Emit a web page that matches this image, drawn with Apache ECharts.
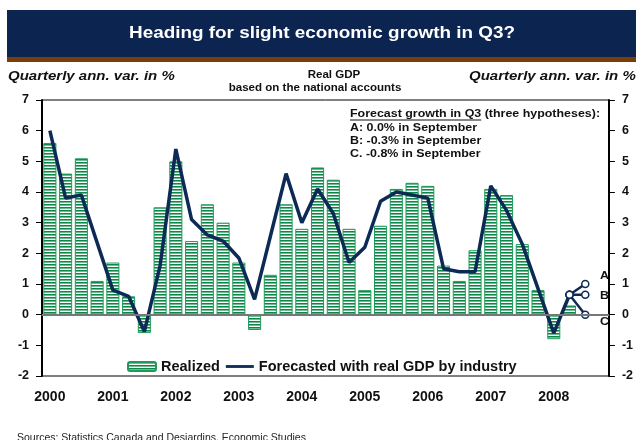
<!DOCTYPE html>
<html>
<head>
<meta charset="utf-8">
<script src="https://cdn.jsdelivr.net/npm/echarts@6/dist/echarts.min.js"></script>
<style>
  html, body { margin: 0; padding: 0; background: #fff; }
  #chart { width: 636px; height: 440px; }
</style>
</head>
<body>
<div id="chart"></div>
<script>
// data
var years = ['2000', '2001', '2002', '2003', '2004', '2005', '2006', '2007', '2008'];
var realized = [
    5.6, 4.6, 5.1, 1.1,
    1.7, 0.6, -0.6, 3.5,
    5.0, 2.4, 3.6, 3.0,
    1.7, -0.5, 1.3, 3.6,
    2.8, 4.8, 4.4, 2.8,
    0.8, 2.9, 4.1, 4.3,
    4.2, 1.6, 1.1, 2.1,
    4.1, 3.9, 2.3, 0.8,
    -0.8, 0.3
];
var forecasted = [
    6.0, 3.8, 3.9, 2.35,
    0.8, 0.6, -0.55, 1.6,
    5.4, 3.1, 2.6, 2.4,
    1.85, 0.5, 2.55, 4.6,
    3.0, 4.1, 3.3, 1.7,
    2.2, 3.7, 4.0, 3.9,
    3.8, 1.5, 1.4, 1.4,
    4.2, 3.4, 2.3, 0.85,
    -0.6, 0.65
];
// Q3 2008 hypotheses
var hypoNames = ['A', 'B', 'C'];
var hypoValues = [1.0, 0.65, 0.0];
var yTicks = { min: -2, max: 7, interval: 1 };

// quarters as categories
var quarters = [];
years.forEach(function (y) {
    for (var q = 1; q <= 4; q++) quarters.push(y + 'Q' + q);
});

// striped fill for the bars
var pat = document.createElement('canvas');
pat.width = 4; pat.height = 3;
var pc = pat.getContext('2d');
pc.fillStyle = '#ffffff'; pc.fillRect(0, 0, 4, 3);
pc.fillStyle = '#0c8649'; pc.fillRect(0, 0, 4, 1);
pc.fillStyle = '#6dbb8f'; pc.fillRect(0, 1, 4, 1);

var FONT = '"Liberation Sans", Arial, sans-serif';
var NAVY = '#0c2a55';
var SX = 1.13; // the reference text is a bit wide

// width of the underlined part of the note
pc.font = 'bold 11px ' + FONT;
var ulWidth = pc.measureText('Forecast growth in Q3').width * SX;

function txt(x, y, s, font, align, sx) {
    return { type: 'text', x: x, y: y, scaleX: sx || SX,
        style: { text: s, fill: '#111', font: font + ' ' + FONT, textAlign: align || 'left', textVerticalAlign: 'middle' } };
}

var fanSeries = hypoNames.map(function (n, k) {
    var d = quarters.map(function () { return null; });
    d[realized.length - 1] = forecasted[forecasted.length - 1];
    d[realized.length] = hypoValues[k];
    return {
        name: 'hyp' + n,
        type: 'line',
        data: d,
        symbol: 'circle',
        symbolSize: 7,
        itemStyle: { color: '#fff', borderColor: NAVY, borderWidth: 1.5 },
        lineStyle: { color: NAVY, width: 2.5 },
        z: 4,
        silent: true
    };
});

var myChart = echarts.init(document.getElementById('chart'));
var option = {
    animation: false,
    textStyle: { fontFamily: FONT },
    grid: { left: 42, right: 21, top: 100, bottom: 64, show: true, borderColor: '#000', borderWidth: 1 },
    legend: {
        data: [
            { name: 'Realized' },
            { name: 'Forecasted with real GDP by industry', icon: 'path://M0,0 H30 V3 H0 Z' }
        ],
        left: 122, top: 354,
        itemWidth: 28, itemHeight: 9, itemGap: 6,
        textStyle: { fontFamily: FONT, fontSize: 14.5, fontWeight: 'bold', color: '#111' }
    },
    xAxis: {
        type: 'category',
        data: quarters,
        axisLine: { lineStyle: { color: '#555', width: 2 } },
        axisTick: { show: false },
        axisLabel: {
            interval: 3, margin: 14,
            fontSize: 14, fontWeight: 'bold', color: '#111',
            formatter: function (v) { return v.slice(0, 4); }
        }
    },
    yAxis: [0, 1].map(function (i) {
        return {
            type: 'value',
            position: i ? 'right' : 'left',
            min: yTicks.min, max: yTicks.max, interval: yTicks.interval,
            splitLine: { show: false },
            axisLine: { show: true, lineStyle: { color: '#000', width: 2 } },
            axisTick: { show: true, length: 6, lineStyle: { color: '#000' } },
            axisLabel: { fontSize: 12.5, fontWeight: 'bold', color: '#111', margin: 13 }
        };
    }),
    series: [{
        name: 'Realized',
        type: 'bar',
        data: realized,
        barCategoryGap: '17%',
        itemStyle: { color: { image: pat, repeat: 'repeat' }, borderColor: '#1f9a5a', borderWidth: 1 },
        markLine: {
            silent: true, symbol: 'none',
            label: { show: false },
            lineStyle: { color: '#777', width: 2, type: 'solid' },
            data: [{ yAxis: 0 }]
        }
    }, {
        name: 'Forecasted with real GDP by industry',
        type: 'line',
        data: forecasted,
        symbol: 'none',
        lineStyle: { color: NAVY, width: 3.5 },
        itemStyle: { color: NAVY },
        z: 3
    }].concat(fanSeries),
    graphic: [
        { type: 'rect', shape: { x: 7, y: 10, width: 629, height: 47 }, style: { fill: '#0b2450' } },
        { type: 'rect', shape: { x: 7, y: 57, width: 629, height: 5 }, style: { fill: '#7a3c08' } },
        { type: 'text', x: 322, y: 34, scaleX: 1.18, style: { text: 'Heading for slight economic growth in Q3?', fill: '#fff',
            font: 'bold 16px ' + FONT, textAlign: 'center', textVerticalAlign: 'middle' } },
        txt(8, 77, 'Quarterly ann. var. in %', 'italic bold 12.5px', 'left', 1.2),
        txt(469, 77, 'Quarterly ann. var. in %', 'italic bold 12.5px', 'left', 1.2),
        txt(334, 75, 'Real GDP', 'bold 11px', 'center', 1.05),
        txt(315, 88, 'based on the national accounts', 'bold 11px', 'center', 1.05),
        // hypotheses note
        txt(350, 114, 'Forecast growth in Q3 (three hypotheses):', 'bold 11px'),
        { type: 'line', shape: { x1: 350, y1: 120, x2: 350 + ulWidth, y2: 120 }, style: { stroke: '#111', lineWidth: 1 } },
        txt(350, 128, 'A: 0.0% in September', 'bold 11px'),
        txt(350, 141, 'B: -0.3% in September', 'bold 11px'),
        txt(350, 154, 'C. -0.8% in September', 'bold 11px'),
        // end labels
        txt(600, 276, 'A', 'bold 11px'),
        txt(600, 296, 'B', 'bold 11px'),
        txt(600, 322, 'C', 'bold 11px'),
        { type: 'text', x: 17, y: 433, scaleX: 1.05, style: { text: 'Sources: Statistics Canada and Desjardins, Economic Studies', fill: '#222',
            font: '10px ' + FONT } }
    ]
};
myChart.setOption(option);
</script>
</body>
</html>
